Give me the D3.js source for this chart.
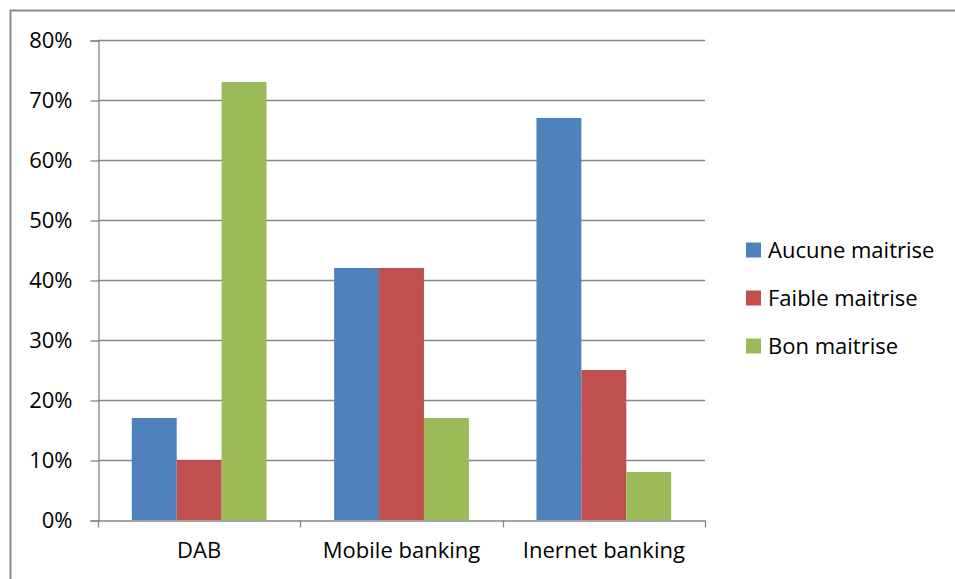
<!DOCTYPE html>
<html>
<head>
<meta charset="utf-8">
<script src="https://cdn.jsdelivr.net/npm/d3@7"></script>
<style>
  body { margin: 0; background: #fff; }
  text { font-family: "Open Sans", sans-serif; fill: #000; }
</style>
</head>
<body>
<svg id="chart" width="955" height="579"></svg>
<script>
  /* Data */
  var categories = ["DAB", "Mobile banking", "Inernet banking"];
  var seriesNames = ["Aucune maitrise", "Faible maitrise", "Bon maitrise"];
  var aucune = [0.17, 0.42, 0.67];
  var faible = [0.10, 0.42, 0.25];
  var bon = [0.73, 0.17, 0.08];
  var yTicks = [0, 0.1, 0.2, 0.3, 0.4, 0.5, 0.6, 0.7, 0.8];
  var colors = ["#4f81bd", "#c0504d", "#9bbb59"];

  var series = [aucune, faible, bon];

  /* SVG properties */
  var width = 955, height = 579;
  var plotLeft = 98, plotRight = 705, plotTop = 40, plotBottom = 520;
  var gridColor = "#868686";
  var fontSize = 22;

  var svg = d3.select("#chart");

  // outer frame (only top and left edges are visible)
  svg.append("line").attr("x1", 10).attr("x2", width).attr("y1", 10.5).attr("y2", 10.5)
     .attr("stroke", "#8c8c8c").attr("stroke-width", 2);
  svg.append("line").attr("x1", 10.5).attr("x2", 10.5).attr("y1", 10).attr("y2", height)
     .attr("stroke", "#8c8c8c").attr("stroke-width", 2);

  var y = d3.scaleLinear().domain([0, 0.8]).range([plotBottom, plotTop]);
  var x0 = d3.scaleBand().domain(categories).range([plotLeft, plotRight]).padding(0);
  var groupPad = x0.bandwidth() * 0.167;
  var x1 = d3.scaleBand().domain(d3.range(series.length))
             .range([groupPad, x0.bandwidth() - groupPad]).padding(0);

  // gridlines
  svg.append("g").selectAll("line")
     .data(yTicks.slice(1))
     .enter().append("line")
     .attr("x1", plotLeft).attr("x2", plotRight)
     .attr("y1", function(d) { return Math.round(y(d)) + 0.5; })
     .attr("y2", function(d) { return Math.round(y(d)) + 0.5; })
     .attr("stroke", gridColor).attr("stroke-width", 1.3);

  // bars
  var groups = svg.append("g").selectAll("g")
     .data(categories)
     .enter().append("g")
     .attr("transform", function(d) { return "translate(" + x0(d) + ",0)"; });
  groups.selectAll("rect")
     .data(function(d, i) { return series.map(function(s, k) { return { k: k, v: s[i] }; }); })
     .enter().append("rect")
     .attr("x", function(d) { return x1(d.k); })
     .attr("width", x1.bandwidth())
     .attr("y", function(d) { return y(d.v); })
     .attr("height", function(d) { return plotBottom - y(d.v); })
     .attr("fill", function(d) { return colors[d.k]; });

  // y axis
  var yAxis = svg.append("g")
     .attr("transform", "translate(" + (plotLeft + 0.5) + ",0.5)")
     .call(d3.axisLeft(y).tickValues(yTicks).tickFormat(d3.format(".0%")).tickSize(8).tickPadding(18));
  yAxis.select(".domain").attr("stroke", gridColor).attr("stroke-width", 1.3);
  yAxis.selectAll(".tick line").attr("stroke", gridColor).attr("stroke-width", 1.3);
  yAxis.selectAll(".tick text").attr("font-size", fontSize).attr("font-family", "Open Sans").attr("fill", "#000");

  // x axis
  var xAxis = svg.append("g")
     .attr("transform", "translate(0," + (plotBottom + 0.5) + ")")
     .call(d3.axisBottom(x0).tickSize(0).tickPadding(22));
  xAxis.select(".domain").attr("stroke", gridColor).attr("stroke-width", 1.3);
  xAxis.selectAll(".tick text").attr("font-size", fontSize).attr("font-family", "Open Sans").attr("fill", "#000");
  // category separator ticks
  var sepX = categories.map(function(c) { return x0(c); }).concat([plotRight]);
  xAxis.append("g").selectAll("line")
     .data(sepX)
     .enter().append("line")
     .attr("x1", function(d) { return Math.round(d) + 0.5; })
     .attr("x2", function(d) { return Math.round(d) + 0.5; })
     .attr("y1", 0).attr("y2", 7)
     .attr("stroke", gridColor).attr("stroke-width", 1.3);

  // legend
  var legend = svg.append("g").selectAll("g")
     .data(seriesNames)
     .enter().append("g")
     .attr("transform", function(d, i) { return "translate(746," + (250 + i * 48) + ")"; });
  legend.append("rect")
     .attr("x", 0).attr("y", -7.5).attr("width", 15).attr("height", 15)
     .attr("fill", function(d, i) { return colors[i]; });
  legend.append("text")
     .attr("x", 22).attr("y", 0).attr("dy", "0.35em")
     .attr("font-size", fontSize)
     .text(function(d) { return d; });
</script>
</body>
</html>
